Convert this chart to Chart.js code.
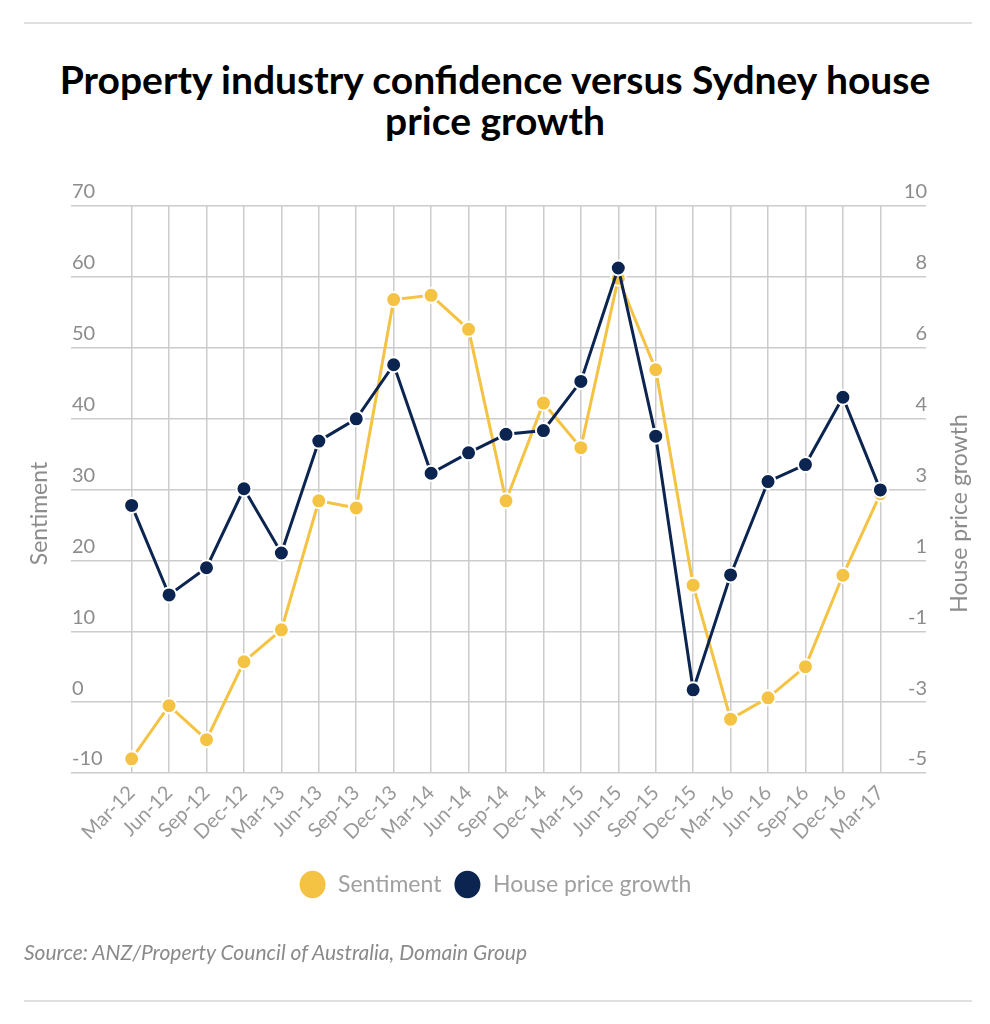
<!DOCTYPE html>
<html>
<head>
<meta charset="utf-8">
<script src="https://cdn.jsdelivr.net/npm/chart.js@4.4.1/dist/chart.umd.min.js"></script>
<style>
  html, body { margin: 0; padding: 0; background: #fff; }
  body { width: 990px; height: 1024px; position: relative; overflow: hidden; font-family: Lato, "Open Sans", sans-serif; }
  .rule { position: absolute; left: 24px; width: 948px; height: 2px; background: #e0e0e0; }
  #title { position: absolute; top: 59px; left: 0; width: 990px; text-align: center; font-weight: 700; font-size: 39px; line-height: 41px; color: #000; }
  #source { position: absolute; top: 939px; left: 24px; font-style: italic; font-size: 21px; color: #8a8a8a; }
  #wrap { position: absolute; left: 0; top: 0; width: 990px; height: 1024px; }
</style>
</head>
<body>
<div class="rule" style="top:22px"></div>
<div id="title">Property industry confidence versus Sydney house<br>price growth</div>
<div id="wrap"><canvas id="chart"></canvas></div>
<div id="source">Source: ANZ/Property Council of Australia, Domain Group</div>
<div class="rule" style="top:1000px"></div>
<script>
const categories = ["Mar-12", "Jun-12", "Sep-12", "Dec-12", "Mar-13", "Jun-13", "Sep-13", "Dec-13", "Mar-14", "Jun-14", "Sep-14",
  "Dec-14", "Mar-15", "Jun-15", "Sep-15", "Dec-15", "Mar-16", "Jun-16", "Sep-16", "Dec-16", "Mar-17"];
const sentiment = [-8.0, -0.5, -5.3, 5.7, 10.2, 28.4, 27.4, 56.8, 57.4, 52.6, 28.4, 42.2, 35.9, 59.8, 46.9, 16.5, -2.4, 0.6, 5.0, 17.9, 29.4];
const houseGrowth = [2.08, -0.29, 0.43, 2.52, 0.82, 3.78, 4.37, 5.8, 2.93, 3.47, 3.96, 4.06, 5.36, 8.36, 3.91, -2.8, 0.24, 2.71, 3.16, 4.94, 2.49];
const leftTicks = [-10, 0, 10, 20, 30, 40, 50, 60, 70];
const rightTickLabels = ["-5", "-3", "-1", "1", "3", "4", "6", "8", "10"];

const YELLOW = "#f5c343";
const NAVY = "#0b2550";
const GREY = "#8c8c8c";
const GRID = "#cccccc";

// axis titles both read bottom-to-top, so draw them here
const axisTitles = {
  id: "axisTitles",
  afterDraw(chart) {
    const { ctx, chartArea } = chart;
    const cy = (chartArea.top + chartArea.bottom) / 2 + 24;
    ctx.save();
    ctx.font = "23px Lato";
    ctx.fillStyle = GREY;
    ctx.textAlign = "center";
    ctx.textBaseline = "middle";
    [["Sentiment", chartArea.left - 31], ["House price growth", chartArea.right + 34]].forEach(([t, x]) => {
      ctx.save();
      ctx.translate(x, cy);
      ctx.rotate(-Math.PI / 2);
      ctx.fillText(t, 0, 0);
      ctx.restore();
    });
    ctx.restore();
  },
};

const toPts = (arr) => arr.map((v, i) => ({ x: i, y: v }));

new Chart(document.getElementById("chart"), {
  type: "line",
  data: {
    datasets: [
      { label: "Sentiment", data: toPts(sentiment), yAxisID: "y", order: 2, borderColor: YELLOW, backgroundColor: YELLOW,
        borderWidth: 3, pointRadius: 7.5, pointBorderWidth: 2, pointBorderColor: "#fff", pointBackgroundColor: YELLOW, tension: 0 },
      { label: "House price growth", data: toPts(houseGrowth), yAxisID: "y1", order: 1, borderColor: NAVY, backgroundColor: NAVY,
        borderWidth: 3, pointRadius: 7.5, pointBorderWidth: 2, pointBorderColor: "#fff", pointBackgroundColor: NAVY, tension: 0 },
    ],
  },
  options: {
    responsive: true,
    maintainAspectRatio: false,
    animation: false,
    layout: { padding: { top: 206, left: 0, right: 0, bottom: 118 } },
    plugins: {
      tooltip: { enabled: false },
      legend: {
        position: "bottom",
        labels: {
          usePointStyle: true, pointStyle: "circle", pointStyleWidth: 28, boxHeight: 21, padding: 12,
          color: "#a0a0a0", font: { family: "Lato", size: 23 },
          sort: (a, b) => a.datasetIndex - b.datasetIndex,
        },
      },
    },
    scales: {
      x: {
        type: "linear", min: -1.62, max: 21.22,
        afterBuildTicks: (s) => { s.ticks = categories.map((_, i) => ({ value: i })); },
        afterFit: (s) => { s.height = 88; },
        ticks: { autoSkip: false, minRotation: 45, maxRotation: 45, padding: 8, color: "#999", font: { family: "Lato", size: 20 },
          callback: (v) => categories[v] },
        grid: { color: GRID, lineWidth: 1.5, drawTicks: false },
        border: { display: false },
      },
      y: {
        position: "left", min: -10, max: 70,
        afterBuildTicks: (s) => { s.ticks = leftTicks.map((v) => ({ value: v })); },
        afterFit: (s) => { s.width = 71; },
        ticks: { mirror: true, padding: 1, labelOffset: -14, color: GREY, font: { family: "Lato", size: 20 } },
        grid: { color: GRID, lineWidth: 1.5, drawTicks: false },
        border: { display: false },
      },
      y1: {
        position: "right", min: -5, max: 10,
        afterBuildTicks: (s) => { s.ticks = rightTickLabels.map((_, i) => ({ value: -5 + (i * 15) / 8 })); },
        afterFit: (s) => { s.width = 64; },
        ticks: { mirror: true, padding: 1, labelOffset: -14, color: GREY, font: { family: "Lato", size: 20 },
          callback: (v, i) => rightTickLabels[i] },
        grid: { display: false, drawTicks: false },
        border: { display: false },
      },
    },
  },
  plugins: [axisTitles],
});
</script>
</body>
</html>
